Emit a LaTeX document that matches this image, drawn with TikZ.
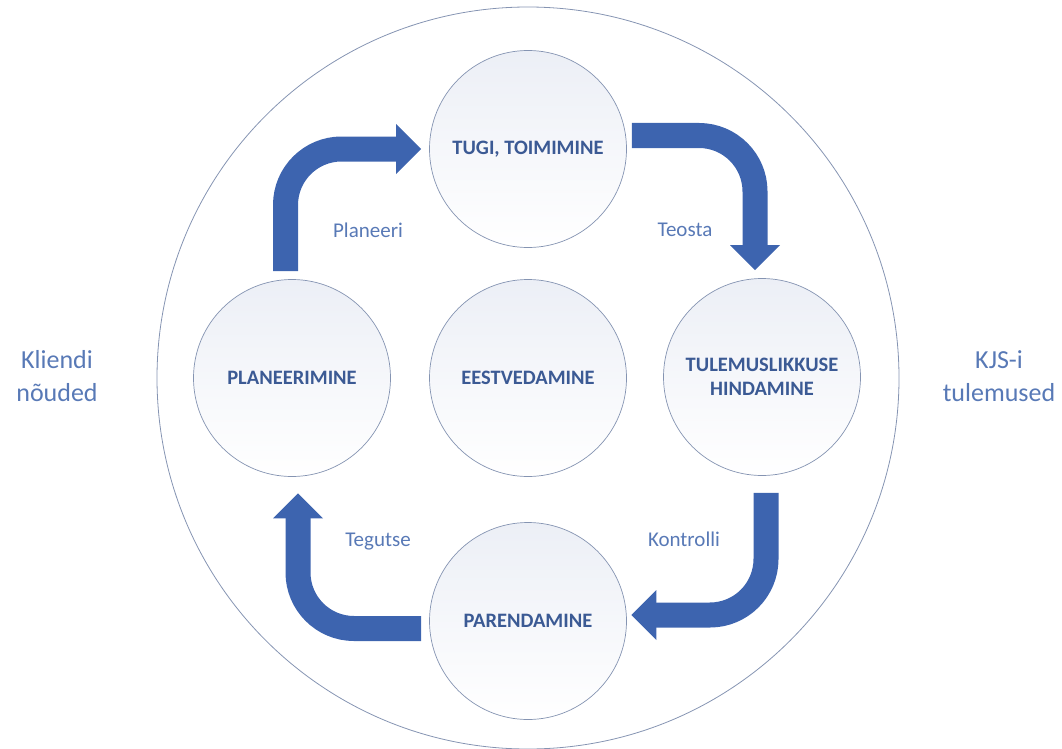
\documentclass[tikz,border=0pt]{standalone}
\usepackage{fontspec}
\setmainfont{Carlito}
\usetikzlibrary{calc}

\definecolor{arrowblue}{HTML}{3D64AF}
\definecolor{nodetext}{HTML}{3B5A94}
\definecolor{labeltext}{HTML}{5879B6}
\definecolor{ringline}{HTML}{8594B2}
\definecolor{discfill}{HTML}{ECEFF6}

\begin{document}
\begin{tikzpicture}[x=1pt,y=-1pt,
  stage/.style={circle, draw=ringline, line width=0.7pt, minimum size=197pt,
    inner sep=0pt, top color=discfill, bottom color=white,
    font=\fontsize{20.5}{23.5}\selectfont\bfseries, text=nodetext, align=center},
  frame/.style={circle, draw=ringline, line width=0.8pt, minimum size=742pt, inner sep=0pt},
  shaft/.style={draw=arrowblue, line width=25pt, rounded corners=56pt},
  head/.style={fill=arrowblue},
  steplabel/.style={font=\fontsize{21}{25}\selectfont, text=labeltext, anchor=base},
  sidelabel/.style={font=\fontsize{26}{33}\selectfont, text=labeltext, align=center}]

\useasboundingbox (0,0) rectangle (1062,749);

% outer boundary
\node[frame] (ring) at (528,378) {};

% the five stages
\node[stage] (tg) at (528,149) {TUGI, TOIMIMINE};
\node[stage] (pl) at (292,378) {PLANEERIMINE};
\node[stage] (ee) at (528,378) {EESTVEDAMINE};
\node[stage] (tl) at (762,377) {TULEMUSLIKKUSE\\HINDAMINE};
\node[stage] (pa) at (528,621) {PARENDAMINE};

% Planeeri: planning -> support
\draw[shaft] ($(pl.north)+(-6.5,-8)$) |- ($(tg.west)+(-32,0)$);
\fill[head] ($(tg.west)+(-33,-25)$) -- ($(tg.west)+(-8,0)$) -- ($(tg.west)+(-33,25)$) -- cycle;

% Teosta: support -> evaluation
\draw[shaft] ($(tg.east)+(5,-13.5)$) -| ($(tl.north)+(-7,-32)$);
\fill[head] ($(tl.north)+(-32,-33)$) -- ($(tl.north)+(-7,-8)$) -- ($(tl.north)+(18,-33)$) -- cycle;

% Kontrolli: evaluation -> improvement
\draw[shaft] ($(tl.south)+(4,17)$) |- ($(pa.east)+(28.5,-6)$);
\fill[head] ($(pa.east)+(29.5,-31)$) -- ($(pa.east)+(4.5,-6)$) -- ($(pa.east)+(29.5,19)$) -- cycle;

% Tegutse: improvement -> planning
\draw[shaft] ($(pa.west)+(-8,7.5)$) -| ($(pl.south)+(6,40.5)$);
\fill[head] ($(pl.south)+(-19,41.5)$) -- ($(pl.south)+(6,16.5)$) -- ($(pl.south)+(31,41.5)$) -- cycle;

% step labels
\node[steplabel] (lplan) at (368,237) {Planeeri};
\node[steplabel] (lteo) at (685,236) {Teosta};
\node[steplabel] (lkon) at (684,546) {Kontrolli};
\node[steplabel] (lteg) at (378,546) {Tegutse};

% inputs and outputs
\node[sidelabel] (inp) at (57,376) {Kliendi\\nõuded};
\node[sidelabel] (outp) at (999,376) {KJS-i\\tulemused};
\end{tikzpicture}
\end{document}
